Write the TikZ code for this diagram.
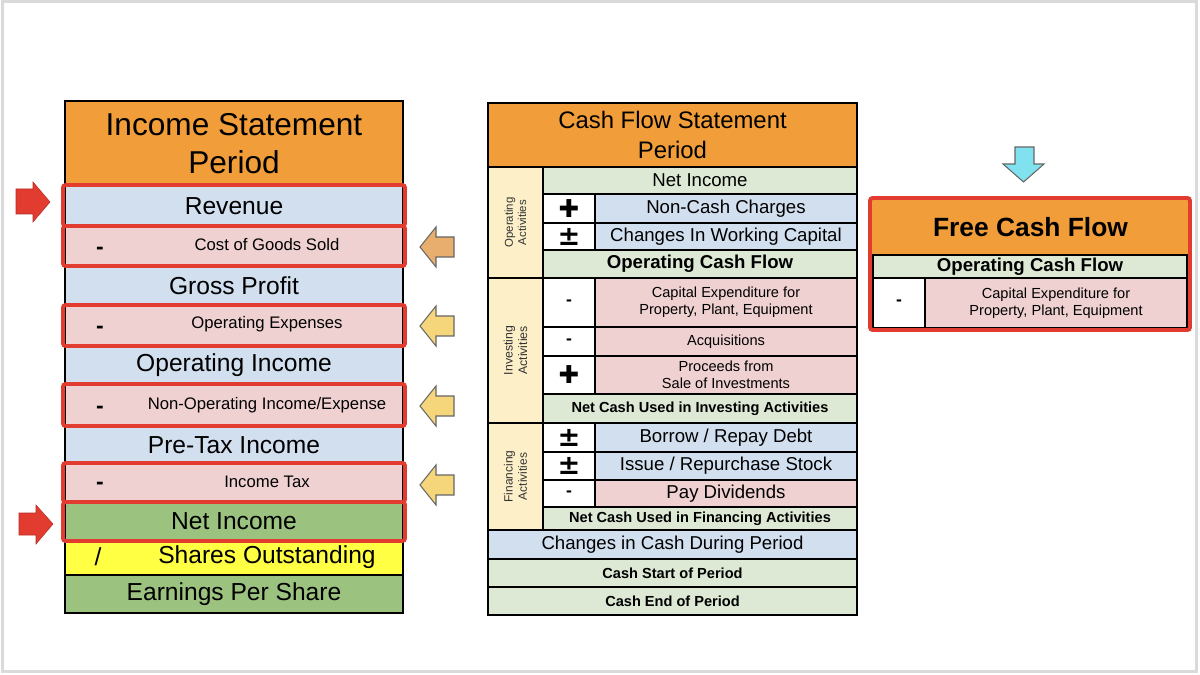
\documentclass[tikz,border=0pt]{standalone}
\usepackage{fontspec}
\setmainfont{Liberation Sans}
\newfontfamily\signfont{DejaVu Sans}
\definecolor{hdr}{HTML}{F19E3A}
\definecolor{blu}{HTML}{D2DFEF}
\definecolor{pnk}{HTML}{EFD1D1}
\definecolor{grn}{HTML}{9CC280}
\definecolor{grl}{HTML}{DDE9D5}
\definecolor{yel}{HTML}{FFFF44}
\definecolor{crm}{HTML}{FDF0C9}
\definecolor{redo}{HTML}{E23B2F}
\definecolor{arro}{HTML}{E8AE6E}
\definecolor{arry}{HTML}{F6D67A}
\definecolor{arrc}{HTML}{80E2EF}
\definecolor{frame}{HTML}{DADADA}
\newcommand\cell[7]{%
  \node[cellbase,#6,minimum width={(#4-#2)*0.02cm},minimum height={(#5-#3)*0.02cm}] (#1) at ({(#2+#4)/2},{(#3+#5)/2}) {#7};}
\tikzset{
  cellbase/.style={draw=black,line width=0.8pt,inner sep=0pt,outer sep=0pt,align=center,text=black},
  fbig/.style={font=\fontsize{14}{17}\selectfont},
  fmid/.style={font=\fontsize{10.6}{12.5}\selectfont},
  fmidb/.style={font=\fontsize{10.6}{12.5}\selectfont\bfseries},
  fsm/.style={font=\fontsize{9.5}{11}\selectfont},
  fxs/.style={font=\fontsize{8.3}{9.9}\selectfont},
  fxsb/.style={font=\fontsize{8.3}{9.9}\selectfont\bfseries},
  plussign/.style={font=\signfont\fontsize{14}{14}\selectfont},
  pmsign/.style={font=\signfont\bfseries\fontsize{15.5}{15.5}\selectfont},
  minsign/.style={font=\fontsize{10}{10}\selectfont\bfseries},
  sidelab/.style={rotate=90,align=center,text=black!80},
  redline/.style={draw=redo,line width=2.2pt,rounded corners=1.5pt},
  arrline/.style={draw=black!60,line width=0.6pt,line join=miter},
  txt/.style={inner sep=0pt,text=black},
  dashsign/.style={inner sep=0pt,text=black,font=\fontsize{13}{13}\selectfont\bfseries}
}
\begin{document}
\begin{tikzpicture}[x=0.02cm,y=-0.02cm]
\useasboundingbox (0,0) rectangle (1200,675);
\fill[white] (0,0) rectangle (1200,675);
\draw[frame,line width=1.5pt] (2.5,1.5) rectangle (1196.5,671.5);

% ---------------- Income statement ----------------
\cell{ishead}{65}{101}{403}{186}{fill=hdr,font=\fontsize{18}{22}\selectfont}{Income Statement\\Period}
\cell{rev}{65}{186}{403}{226}{fill=blu,fbig}{Revenue}
\cell{cogs}{65}{226}{403}{266}{fill=pnk}{}
\cell{gp}{65}{266}{403}{305}{fill=blu,fbig}{Gross Profit}
\cell{opex}{65}{305}{403}{345}{fill=pnk}{}
\cell{oi}{65}{345}{403}{385}{fill=blu,fbig}{Operating Income}
\cell{nonop}{65}{385}{403}{426}{fill=pnk}{}
\cell{pti}{65}{426}{403}{464}{fill=blu,fbig}{Pre-Tax Income}
\cell{tax}{65}{464}{403}{502}{fill=pnk}{}
\cell{ni}{65}{502}{403}{540}{fill=grn,fbig}{Net Income}
\cell{shares}{65}{540}{403}{575}{fill=yel}{}
\cell{eps}{65}{575}{403}{613}{fill=grn,fbig}{Earnings Per Share}

\node[txt,fsm] (cogst) at (267,245) {Cost of Goods Sold};
\node[txt,fsm] (opext) at (267,324) {Operating Expenses};
\node[txt,fsm] (nonopt) at (267,405) {Non-Operating Income/Expense};
\node[txt,fsm] (taxt) at (267,482) {Income Tax};
\node[txt,fbig] (sharest) at (267,557) {Shares Outstanding};
\node[dashsign] (m1) at (100,251) {-};
\node[dashsign] (m2) at (100,330) {-};
\node[dashsign] (m3) at (100,410) {-};
\node[dashsign] (m4) at (100,486) {-};
\node[txt,fbig] (sl) at (98,557) {/};

\draw[redline] (63,185) rectangle (405,226);
\draw[redline] (63,226) rectangle (405,266);
\draw[redline] (63,305) rectangle (405,346);
\draw[redline] (63,384) rectangle (405,426);
\draw[redline] (63,463) rectangle (405,502);
\draw[redline] (63,502) rectangle (405,541);

% red arrows (right-pointing)
\filldraw[fill=redo,draw=redo!80!black,line width=0.3pt] (16,189) -- (33,189) -- (33,182) -- (50,202) -- (33,222) -- (33,214) -- (16,214) -- cycle;
\filldraw[fill=redo,draw=redo!80!black,line width=0.3pt] (19,513) -- (36,513) -- (36,505) -- (53,524) -- (36,544) -- (36,535) -- (19,535) -- cycle;

% left-pointing arrows
\filldraw[fill=arro,arrline] (420,247) -- (436,227) -- (436,237) -- (454,237) -- (454,257) -- (436,257) -- (436,267) -- cycle;
\filldraw[fill=arry,arrline] (420,326) -- (436,306) -- (436,316) -- (454,316) -- (454,336) -- (436,336) -- (436,346) -- cycle;
\filldraw[fill=arry,arrline] (420,406) -- (436,386) -- (436,396) -- (454,396) -- (454,416) -- (436,416) -- (436,426) -- cycle;
\filldraw[fill=arry,arrline] (420,485) -- (436,465) -- (436,475) -- (454,475) -- (454,495) -- (436,495) -- (436,505) -- cycle;

% ---------------- Cash flow statement ----------------
\cell{cfhead}{488}{103}{857}{167}{fill=hdr,font=\fontsize{13.6}{17}\selectfont}{Cash Flow Statement\\Period}
\cell{opside}{488}{167}{543}{278}{fill=crm}{}
\cell{cfni}{543}{167}{857}{194}{fill=grl,fmid}{Net Income}
\cell{s1}{543}{194}{595}{223}{fill=white,plussign}{✚}
\cell{ncc}{595}{194}{857}{223}{fill=blu,fmid}{Non-Cash Charges}
\cell{s2}{543}{223}{595}{250}{fill=white,pmsign}{±}
\cell{cwc}{595}{223}{857}{250}{fill=blu,fmid}{Changes In Working Capital}
\cell{ocf}{543}{250}{857}{278}{fill=grl,fmidb}{Operating Cash Flow}
\cell{invside}{488}{278}{543}{423}{fill=crm}{}
\cell{s3}{543}{278}{595}{327}{fill=white,minsign}{-}
\cell{capex}{595}{278}{857}{327}{fill=pnk,fxs}{Capital Expenditure for\\Property, Plant, Equipment}
\cell{s4}{543}{327}{595}{356}{fill=white,minsign}{-}
\cell{acq}{595}{327}{857}{356}{fill=pnk,fxs}{Acquisitions}
\cell{s5}{543}{356}{595}{394}{fill=white,plussign}{✚}
\cell{proc}{595}{356}{857}{394}{fill=pnk,fxs}{Proceeds from\\Sale of Investments}
\cell{ncinv}{543}{394}{857}{423}{fill=grl,fxsb}{Net Cash Used in Investing Activities}
\cell{finside}{488}{423}{543}{530}{fill=crm}{}
\cell{s6}{543}{423}{595}{452}{fill=white,pmsign}{±}
\cell{debt}{595}{423}{857}{452}{fill=blu,fmid}{Borrow / Repay Debt}
\cell{s7}{543}{452}{595}{480}{fill=white,pmsign}{±}
\cell{stock}{595}{452}{857}{480}{fill=blu,fmid}{Issue / Repurchase Stock}
\cell{s8}{543}{480}{595}{507}{fill=white,minsign}{-}
\cell{div}{595}{480}{857}{507}{fill=pnk,fmid}{Pay Dividends}
\cell{ncfin}{543}{507}{857}{530}{fill=grl,fxsb}{Net Cash Used in Financing Activities}
\cell{chg}{488}{530}{857}{559}{fill=blu,fmid}{Changes in Cash During Period}
\cell{cstart}{488}{559}{857}{587}{fill=grl,fxsb}{Cash Start of Period}
\cell{cend}{488}{587}{857}{615}{fill=grl,fxsb}{Cash End of Period}

\node[sidelab,font=\fontsize{6.5}{7.5}\selectfont] (oplab) at (opside) {Operating\\Activities};
\node[sidelab,font=\fontsize{7}{8.3}\selectfont] (invlab) at (invside) {Investing\\Activities};
\node[sidelab,font=\fontsize{6.8}{8}\selectfont] (finlab) at (finside) {Financing\\Activities};

% ---------------- Free cash flow ----------------
\filldraw[fill=arrc,arrline] (1015,147) -- (1034,147) -- (1034,164) -- (1044,164) -- (1023.5,182) -- (1003,164) -- (1015,164) -- cycle;
\cell{fcfhead}{872}{199}{1189}{255}{fill=hdr,draw=none,font=\fontsize{15}{18}\selectfont\bfseries}{Free Cash Flow}
\cell{focf}{873}{255}{1187}{278}{fill=grl,fmidb}{Operating Cash Flow}
\cell{fs}{873}{278}{925}{328}{fill=white,minsign}{-}
\cell{fcapex}{925}{278}{1187}{328}{fill=pnk,fxs}{Capital Expenditure for\\Property, Plant, Equipment}
\draw[redline] (870,198) rectangle (1190,330);
\end{tikzpicture}
\end{document}
